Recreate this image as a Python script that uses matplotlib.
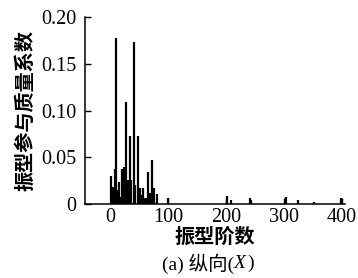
import matplotlib
matplotlib.use("Agg")
import matplotlib.pyplot as plt

# mode number and mass participation ratio
modes = [0, 4, 7, 10, 12, 14, 17, 20, 23, 26, 29, 31, 33, 36, 40, 43, 47,
         51, 54, 57, 60, 62, 65, 69, 72, 75, 81, 99, 201, 209, 241, 243,
         303, 325, 353, 399]
ratios = [0.030, 0.018, 0.038, 0.177, 0.015, 0.024, 0.008, 0.037, 0.040,
          0.109, 0.024, 0.026, 0.073, 0.026, 0.173, 0.020, 0.073,
          0.017, 0.010, 0.017, 0.007, 0.006, 0.034, 0.012, 0.047, 0.017,
          0.011, 0.007, 0.009, 0.004, 0.007, 0.004,
          0.008, 0.004, 0.002, 0.007]

xticks = [0, 100, 200, 300, 400]
yticks = [0, 0.05, 0.10, 0.15, 0.20]
yticklabels = ["0", "0.05", "0.10", "0.15", "0.20"]

num_font = "Liberation Serif"
cjk = ["Noto Sans CJK SC", "DejaVu Sans"]
mixed = ["Liberation Serif", "Noto Sans CJK SC"]

fig = plt.figure(figsize=(3.58, 2.78), dpi=100)
ax = fig.add_axes([0.237, 0.266, 0.727, 0.673])

ax.vlines(modes, 0, ratios, colors="black", linewidth=1.6)

ax.set_xlim(-44.5, 406)
ax.set_ylim(0, 0.20)
ax.set_xticks(xticks)
ax.set_yticks(yticks)
ax.set_yticklabels(yticklabels)
for lab in ax.get_xticklabels() + ax.get_yticklabels():
    lab.set_fontfamily(num_font)
    lab.set_fontsize(14.5)

ax.tick_params(direction="in", length=4, width=1)
ax.tick_params(axis="y", pad=6)
ax.tick_params(axis="x", pad=3)
ax.spines["top"].set_visible(False)
ax.spines["right"].set_visible(False)
ax.spines["left"].set_linewidth(1.1)
ax.spines["bottom"].set_linewidth(1.1)

ax.set_ylabel("振型参与质量系数", family=cjk, fontsize=14.5, fontweight="bold",
              labelpad=4)
ax.set_xlabel("振型阶数", family=cjk, fontsize=14.5, fontweight="bold",
              labelpad=-1)

# caption "(a) 纵向(X)" with italic X
t1 = fig.text(0.452, 0.052, "(a) 纵向(", family=mixed, fontsize=14,
              ha="left", va="center")
fig.canvas.draw()
bb = t1.get_window_extent()
x2 = bb.x1 / fig.bbox.width
t2 = fig.text(x2, 0.052, "X", family=num_font, fontsize=14, style="italic",
              ha="left", va="center")
fig.canvas.draw()
bb2 = t2.get_window_extent()
fig.text(bb2.x1 / fig.bbox.width + 0.003, 0.052, ")", family=num_font,
         fontsize=14, ha="left", va="center")

fig.savefig("out.png", dpi=100)
